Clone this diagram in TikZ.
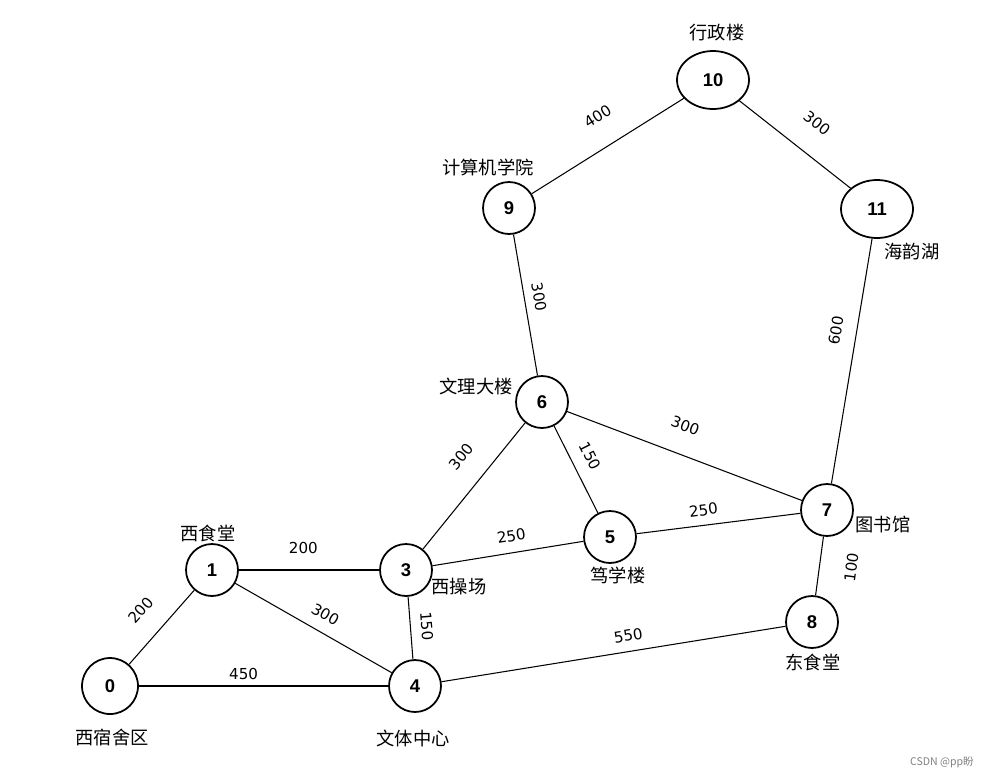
\documentclass[tikz,border=0pt]{standalone}
\usepackage{fontspec}
\setmainfont{DejaVu Sans}
\newfontfamily\cjk{Noto Sans CJK SC}
\newfontfamily\numfont{Liberation Sans}
\usetikzlibrary{shapes.geometric,positioning}

\tikzset{
  vert/.style={draw,circle,line width=1pt,minimum size=1.04cm,inner sep=0pt,
    font={\numfont\bfseries\fontsize{10.5}{12}\selectfont}},
  oval/.style={draw,ellipse,line width=1pt,minimum width=1.44cm,minimum height=1.16cm,inner sep=0pt,
    font={\numfont\bfseries\fontsize{10.5}{12}\selectfont}},
  place/.style={font={\cjk\fontsize{10.4}{12}\selectfont},inner sep=0pt},
  edge/.style={line width=0.6pt},
  wt/.style={sloped,inner sep=0pt,font={\fontsize{8.6}{10}\selectfont}}
}

\begin{document}
\begin{tikzpicture}[x=0.02cm,y=-0.02cm]
\useasboundingbox (0,0) rectangle (993,778);

\node[vert,minimum size=1.12cm] (n0) at (110,686) {0};
\node[vert] (n1) at (212,570) {1};
\node[vert] (n3) at (406,570) {3};
\node[vert] (n4) at (415,686) {4};
\node[vert] (n5) at (610,537) {5};
\node[vert] (n6) at (542,402) {6};
\node[vert] (n7) at (827,510) {7};
\node[vert] (n8) at (812,622) {8};
\node[vert] (n9) at (509,208) {9};
\node[oval] (n10) at (713,80) {10};
\node[oval] (n11) at (877,209) {11};

\node[place] (p0) at (112,737) {西宿舍区};
\node[place] (p1) at (208,533) {西食堂};
\node[place] (p3) at (459,587) {西操场};
\node[place] (p4) at (413,738) {文体中心};
\node[place] (p5) at (618,575) {笃学楼};
\node[place] (p6) at (476,386) {文理大楼};
\node[place] (p7) at (883,525) {图书馆};
\node[place] (p8) at (813,662) {东食堂};
\node[place] (p9) at (488,167) {计算机学院};
\node[place] (p10) at (717,33) {行政楼};
\node[place] (p11) at (912,252) {海韵湖};

\draw[edge] (n0) -- node[wt,pos=0.49,above=11.6pt] (w01) {200} (n1);
\draw[edge] (n1) -- node[wt,pos=0.46,above=8.8pt] (w13) {200} (n3);
\draw[edge] (n1) -- node[wt,pos=0.52,above=6.5pt] (w14) {300} (n4);
\draw[edge] (n3) -- node[wt,pos=0.49,above=5.7pt] (w34) {150} (n4);
\draw[edge,line width=1.1pt] (n0) -- node[wt,pos=0.42,above=3.1pt] (w04) {450} (n4);
\draw[edge] (n3) -- node[wt,pos=0.59,above=12.8pt] (w36) {300} (n6);
\draw[edge] (n6) -- node[wt,pos=0.44,above=7.1pt] (w65) {150} (n5);
\draw[edge] (n3) -- node[wt,pos=0.54,above=6pt] (w35) {250} (n5);
\draw[edge] (n6) -- node[wt,pos=0.46,above=12.7pt] (w67) {300} (n7);
\draw[edge] (n5) -- node[wt,pos=0.42,above=5.1pt] (w57) {250} (n7);
\draw[edge] (n8) -- node[wt,pos=0.55,below=14.5pt] (w87) {100} (n7);
\draw[edge] (n4) -- node[wt,pos=0.55,above=5.4pt] (w48) {550} (n8);
\draw[edge] (n9) -- node[wt,pos=0.46,above=4.8pt] (w96) {300} (n6);
\draw[edge] (n9) -- node[wt,pos=0.54,above=13.9pt] (w910) {400} (n10);
\draw[edge] (n10) -- node[wt,pos=0.53,above=13.6pt] (w1011) {300} (n11);
\draw[edge] (n7) -- node[wt,pos=0.61,above=8.2pt] (w711) {600} (n11);

\node[font={\cjk\fontsize{6}{7}\selectfont},text=gray] (mark) at (942,762) {CSDN @pp盼};
\end{tikzpicture}
\end{document}
